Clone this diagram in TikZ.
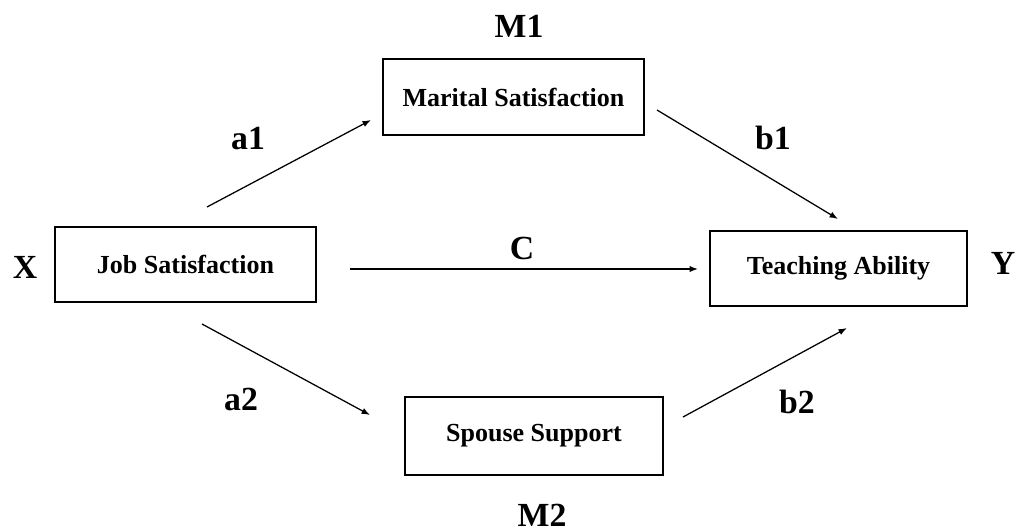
\documentclass[tikz,border=0pt]{standalone}
\usepackage{fontspec}
\setmainfont{Liberation Serif}
\usetikzlibrary{arrows.meta}
\begin{document}
\begin{tikzpicture}[x=0.025cm,y=-0.025cm,
  varbox/.style={draw,line width=2pt,inner sep=0pt,font=\fontsize{18.5}{20}\selectfont\bfseries},
  pathlabel/.style={font=\fontsize{24}{26}\selectfont\bfseries,inner sep=0pt},
  pathline/.style={line width=0.9pt,-{Latex[length=6pt,width=4.5pt]}}]
\useasboundingbox (0,0) rectangle (1019,532);

% variables
\node[varbox,minimum width=6.525cm,minimum height=1.875cm] (job) at (185.5,264.5) {Job Satisfaction};
\node[varbox,minimum width=6.525cm,minimum height=1.9cm] (mar) at (513.5,97) {Marital Satisfaction};
\node[varbox,minimum width=6.425cm,minimum height=1.875cm] (teach) at (838.5,268.5) {Teaching Ability};
\node[varbox,minimum width=6.45cm,minimum height=1.95cm] (spouse) at (534,436) {Spouse Support};

% role labels
\node[pathlabel] (lx) at (25,267) {X};
\node[pathlabel] (ly) at (1003,263) {Y};
\node[pathlabel] (lm1) at (519,26) {M1};
\node[pathlabel] (lm2) at (542,515) {M2};

% path end points
\coordinate (a1s) at (207,207);  \coordinate (a1e) at (371,120);
\coordinate (b1s) at (657,110);  \coordinate (b1e) at (838,219);
\coordinate (cs)  at (350,269);  \coordinate (ce)  at (698,269);
\coordinate (a2s) at (202,324);  \coordinate (a2e) at (370,415);
\coordinate (b2s) at (683,417);  \coordinate (b2e) at (847,328);

% paths
\draw[pathline] (a1s) -- (a1e);
\draw[pathline] (b1s) -- (b1e);
\draw[pathline] (cs) -- (ce);
\draw[pathline] (a2s) -- (a2e);
\draw[pathline] (b2s) -- (b2e);

% path coefficients
\node[pathlabel] (la1) at (248,139) {a1};
\node[pathlabel] (lb1) at (773,138) {b1};
\node[pathlabel] (lc)  at (522,248) {C};
\node[pathlabel] (la2) at (241,399) {a2};
\node[pathlabel] (lb2) at (797,402) {b2};
\end{tikzpicture}
\end{document}
